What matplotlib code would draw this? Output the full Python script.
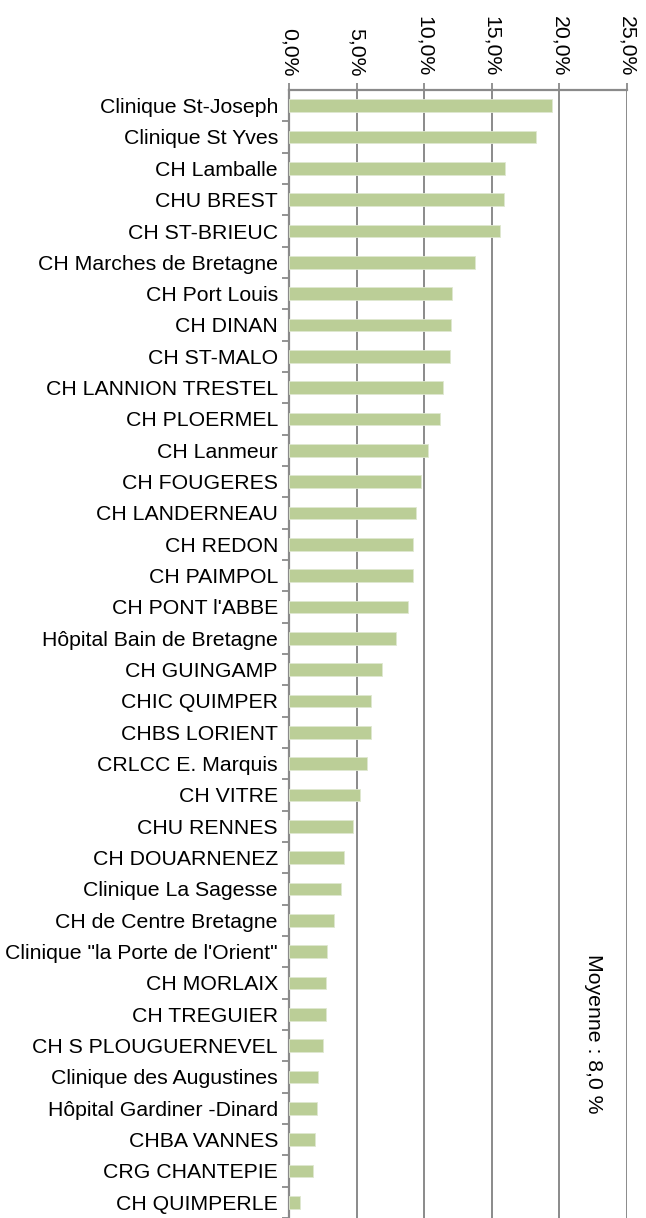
import matplotlib
matplotlib.use("Agg")
import matplotlib.pyplot as plt
import numpy as np
from matplotlib.ticker import FixedLocator

plt.rcParams['font.family'] = ['Liberation Sans', 'DejaVu Sans']

categories = [
    "Clinique St-Joseph", "Clinique St Yves", "CH Lamballe", "CHU BREST",
    "CH ST-BRIEUC", "CH Marches de Bretagne", "CH Port Louis", "CH DINAN",
    "CH ST-MALO", "CH LANNION TRESTEL", "CH PLOERMEL", "CH Lanmeur",
    "CH FOUGERES", "CH LANDERNEAU", "CH REDON", "CH PAIMPOL",
    "CH PONT l'ABBE", "Hôpital Bain de Bretagne", "CH GUINGAMP", "CHIC QUIMPER",
    "CHBS LORIENT", "CRLCC E. Marquis", "CH VITRE", "CHU RENNES",
    "CH DOUARNENEZ", "Clinique La Sagesse", "CH de Centre Bretagne",
    "Clinique \"la Porte de l'Orient\"", "CH MORLAIX", "CH TREGUIER",
    "CH S PLOUGUERNEVEL", "Clinique des Augustines", "Hôpital Gardiner -Dinard",
    "CHBA VANNES", "CRG CHANTEPIE", "CH QUIMPERLE",
]
values = [
    19.44, 18.27, 16.0, 15.88, 15.58, 13.78, 12.07, 11.98, 11.88, 11.36,
    11.19, 10.27, 9.78, 9.36, 9.16, 9.16, 8.77, 7.95, 6.87, 6.05,
    6.05, 5.76, 5.26, 4.74, 4.07, 3.85, 3.36, 2.84, 2.77, 2.77,
    2.55, 2.15, 2.05, 1.95, 1.76, 0.84,
]
x_ticks = [0, 5, 10, 15, 20, 25]
x_tick_labels = ["0,0%", "5,0%", "10,0%", "15,0%", "20,0%", "25,0%"]
mean_label = "Moyenne : 8,0 %"

W, H = 646, 1218
fig = plt.figure(figsize=(W / 100, H / 100), dpi=100)
ax = fig.add_axes([289 / W, 0.0, (627 - 289) / W, (H - 90) / H])

grey = "#8a8a8a"
fs = 15.3
y = np.arange(len(categories))
ax.barh(y, values, height=0.4, color="#bbce97", edgecolor="#dfe8d0", linewidth=0.6, zorder=3)

ax.set_xlim(0, 25)
ax.set_ylim(len(categories) - 0.5, -0.5)

ax.xaxis.set_ticks_position('top')
ax.xaxis.set_label_position('top')
ax.set_xticks(x_ticks)
ax.set_xticklabels(x_tick_labels, rotation=-90, fontsize=fs)
ax.tick_params(axis='x', which='major', length=5, width=1.3, color=grey, pad=5, labeltop=True, labelbottom=False)

ax.set_yticks(y)
ax.set_yticklabels(categories, fontsize=fs)
ax.tick_params(axis='y', which='major', length=0, pad=8)
ax.yaxis.set_minor_locator(FixedLocator(np.arange(0.5, len(categories), 1.0)))
ax.tick_params(axis='y', which='minor', length=5, width=1.3, color=grey)

ax.grid(axis='x', color=grey, linewidth=1.4, zorder=0)
ax.set_axisbelow(True)

for s in ['bottom', 'right']:
    ax.spines[s].set_visible(False)
for s in ['left', 'top']:
    ax.spines[s].set_color(grey)
    ax.spines[s].set_linewidth(1.6)

ax.text(0.9, 0.163, mean_label, transform=ax.transAxes, rotation=-90,
        ha='center', va='center', fontsize=fs, color='black')

fig.savefig("out.png", dpi=100)
